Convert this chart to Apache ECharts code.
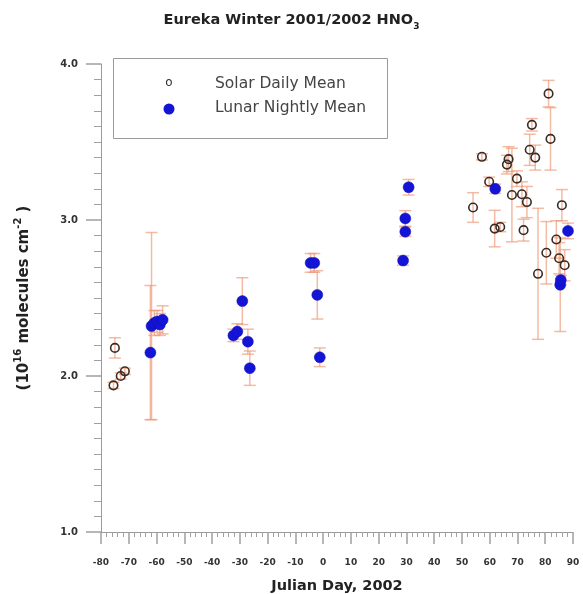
<!DOCTYPE html>
<html><head><meta charset="utf-8">
<script src="https://cdn.jsdelivr.net/npm/echarts/dist/echarts.min.js"></script>
<style>html,body{margin:0;padding:0;background:#fff}#c{width:583px;height:594px}</style>
</head><body><div id="c"></div>
<script>
// Solar daily mean: day, value, error
const solarDay = [-75.0, -75.5, -72.9, -71.4, 54.0, 57.2, 59.8, 61.8, 63.8, 66.2, 66.8, 68.0, 69.8, 71.6, 72.2, 73.4, 74.4, 75.2, 76.4, 77.4, 80.4, 81.2, 81.9, 84.0, 85.0, 86.0, 87.0];
const solarVal = [2.18, 1.94, 2.00, 2.03, 3.08, 3.405, 3.245, 2.945, 2.955, 3.355, 3.39, 3.16, 3.265, 3.165, 2.935, 3.115, 3.45, 3.61, 3.40, 2.655, 2.79, 3.81, 3.52, 2.875, 2.755, 3.095, 2.71];
const solarErr = [0.065, 0.02, 0.02, 0.02, 0.095, 0.02, 0.03, 0.117, 0.03, 0.06, 0.08, 0.30, 0.05, 0.08, 0.07, 0.10, 0.10, 0.04, 0.08, 0.42, 0.20, 0.085, 0.20, 0.12, 0.10, 0.10, 0.10];
// Lunar nightly mean: day, value, error
const lunarDay = [-62.2, -61.8, -60.8, -59.8, -58.8, -57.8, -32.3, -30.9, -29.1, -27.1, -26.4, -4.5, -3.2, -2.1, -1.2, 28.8, 29.6, 29.6, 30.8, 62.0, 85.4, 85.6, 88.2];
const lunarVal = [2.15, 2.32, 2.34, 2.35, 2.33, 2.36, 2.26, 2.285, 2.48, 2.22, 2.05, 2.725, 2.725, 2.52, 2.12, 2.74, 2.925, 3.01, 3.21, 3.20, 2.585, 2.615, 2.93];
const lunarErr = [0.43, 0.60, 0.08, 0.07, 0.07, 0.09, 0.04, 0.05, 0.15, 0.08, 0.11, 0.06, 0.06, 0.155, 0.06, 0.03, 0.03, 0.05, 0.05, 0.03, 0.30, 0.03, 0.05];
const xTickMin = -80, xTickMax = 90, xTickStep = 10;
const yTickMin = 1, yTickMax = 4, yTickStep = 1;

const solarData = solarDay.map((d, i) => [d, solarVal[i], solarErr[i]]);
const lunarData = lunarDay.map((d, i) => [d, lunarVal[i], lunarErr[i]]);
const errColor = 'rgba(238,150,115,0.65)';
const font = '"DejaVu Sans", sans-serif';

function errBar(params, api) {
  const x = api.value(0), y = api.value(1), e = api.value(2);
  const t = api.coord([x, y + e]), b = api.coord([x, y - e]);
  const hw = 6;
  const st = { stroke: errColor, lineWidth: 1.5 };
  return { type: 'group', children: [
    { type: 'line', shape: { x1: t[0], y1: t[1], x2: b[0], y2: b[1] }, style: st },
    { type: 'line', shape: { x1: t[0] - hw, y1: t[1], x2: t[0] + hw, y2: t[1] }, style: st },
    { type: 'line', shape: { x1: b[0] - hw, y1: b[1], x2: b[0] + hw, y2: b[1] }, style: st }
  ]};
}

const chart = echarts.init(document.getElementById('c'), null, { renderer: 'canvas' });
chart.setOption({
  animation: false,
  backgroundColor: '#fff',
  title: {
    text: '{a|Eureka Winter 2001/2002 HNO}{s|3}',
    left: 'center', top: 4,
    textStyle: {
      rich: {
        a: { fontFamily: font, fontWeight: 'bold', fontSize: 14.5, color: '#222', lineHeight: 22 },
        s: { fontFamily: font, fontWeight: 'bold', fontSize: 9, color: '#222', lineHeight: 22, verticalAlign: 'bottom' }
      }
    }
  },
  grid: { left: 101, right: 10, top: 64, bottom: 62, containLabel: false, outerBoundsMode: 'none' },
  xAxis: {
    type: 'value', min: xTickMin, max: xTickMax, interval: xTickStep,
    name: 'Julian Day, 2002', nameLocation: 'middle', nameGap: 47,
    nameTextStyle: { fontFamily: font, fontWeight: 'bold', fontSize: 14.5, color: '#222' },
    axisLine: { onZero: false, lineStyle: { color: '#9a9a9a', width: 1 } },
    axisTick: { length: 12, lineStyle: { color: '#a0a0a0', width: 1.5 } },
    minorTick: { show: true, splitNumber: 5, length: 5, lineStyle: { color: '#a0a0a0' } },
    splitLine: { show: false },
    axisLabel: { fontFamily: font, fontWeight: 'bold', fontSize: 9, color: '#333', margin: 26 }
  },
  yAxis: {
    type: 'value', min: yTickMin, max: yTickMax, interval: yTickStep,
    name: '{a|(10}{p|16}{a| molecules cm}{p|-2}{a| )}', nameLocation: 'middle', nameGap: 66, nameRotate: 90,
    nameTextStyle: {
      rich: {
        a: { fontFamily: font, fontWeight: 'bold', fontSize: 15, color: '#222', lineHeight: 22 },
        p: { fontFamily: font, fontWeight: 'bold', fontSize: 10, color: '#222', lineHeight: 22, verticalAlign: 'top' }
      }
    },
    axisLine: { onZero: false, lineStyle: { color: '#9a9a9a', width: 1 } },
    axisTick: { length: 15, lineStyle: { color: '#a0a0a0', width: 1.5 } },
    minorTick: { show: true, splitNumber: 10, length: 7, lineStyle: { color: '#a0a0a0' } },
    splitLine: { show: false },
    axisLabel: { fontFamily: font, fontWeight: 'bold', fontSize: 10, color: '#333', margin: 23, formatter: v => v.toFixed(1) }
  },
  graphic: [
    { type: 'rect', left: 113, top: 58, z: 100, shape: { width: 274, height: 80 }, style: { fill: '#fff', stroke: '#9a9a9a', lineWidth: 1 } },
    { type: 'text', x: 169, y: 83, z: 101, style: { text: 'o', font: '12px ' + font, fill: '#333', align: 'center', verticalAlign: 'middle' } },
    { type: 'circle', x: 169, y: 109, z: 101, shape: { r: 5.5 }, style: { fill: '#1414d6' } },
    { type: 'text', x: 215, y: 84, z: 101, style: { text: 'Solar Daily Mean', font: '15.5px ' + font, fill: '#444', verticalAlign: 'middle' } },
    { type: 'text', x: 215, y: 108, z: 101, style: { text: 'Lunar Nightly Mean', font: '15.5px ' + font, fill: '#444', verticalAlign: 'middle' } }
  ],
  series: [
    { type: 'custom', renderItem: errBar, data: solarData, encode: { x: 0, y: 1 }, z: 1, silent: true },
    { type: 'custom', renderItem: errBar, data: lunarData, encode: { x: 0, y: 1 }, z: 1, silent: true },
    { name: 'Solar Daily Mean', type: 'scatter', data: solarData, symbol: 'circle', symbolSize: 8.5, z: 3,
      itemStyle: { opacity: 1, color: 'rgba(255,255,255,0)', borderColor: '#3a2b24', borderWidth: 1.6 } },
    { name: 'Lunar Nightly Mean', type: 'scatter', data: lunarData, symbol: 'circle', symbolSize: 11, z: 4,
      itemStyle: { opacity: 1, color: '#1414d6', borderColor: '#1010b0', borderWidth: 0.5 } }
  ]
});
</script>
</body></html>
